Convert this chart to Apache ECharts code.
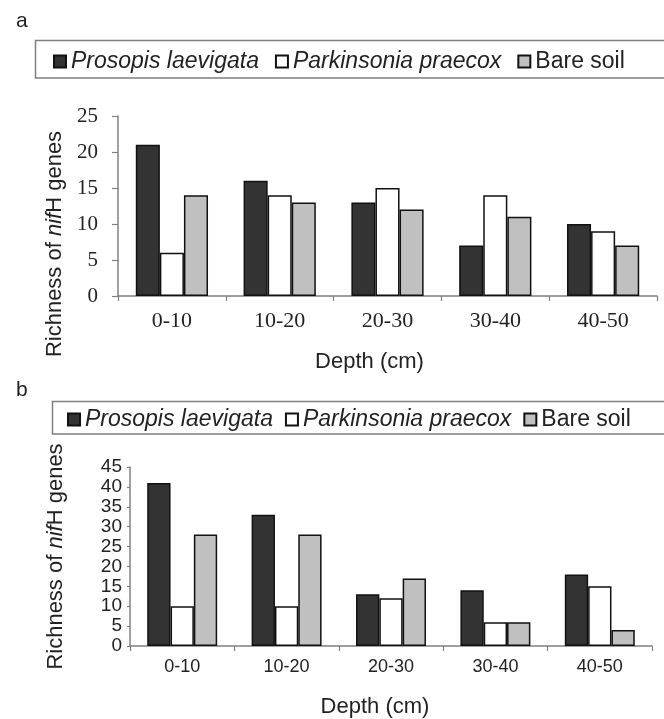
<!DOCTYPE html>
<html>
<head>
<meta charset="utf-8">
<script src="https://cdn.jsdelivr.net/npm/echarts@6/dist/echarts.min.js"></script>
<style>
html,body{margin:0;padding:0;background:#fff;}
#c{width:664px;height:719px;}
</style>
</head>
<body>
<div id="c"></div>
<script>
var categories = ['0-10', '10-20', '20-30', '30-40', '40-50'];
var seriesNames = ['Prosopis laevigata', 'Parkinsonia praecox', 'Bare soil'];
var prosopisA = [21, 16, 13, 7, 10];
var parkinsoniaA = [6, 14, 15, 14, 9];
var bareA = [14, 13, 12, 11, 7];
var prosopisB = [41, 33, 13, 14, 18];
var parkinsoniaB = [10, 10, 12, 6, 15];
var bareB = [28, 28, 17, 6, 4];
var yTicksA = [0, 5, 10, 15, 20, 25];
var yTicksB = [0, 5, 10, 15, 20, 25, 30, 35, 40, 45];

var colors = ['#333333', '#ffffff', '#c0c0c0'];
var chart = echarts.init(document.getElementById('c'), null, {renderer: 'canvas'});

function bar(name, data, idx, ci) {
  return {
    type: 'bar', name: name, data: data,
    xAxisIndex: idx, yAxisIndex: idx,
    barGap: '0%', barCategoryGap: '33%',
    itemStyle: {color: colors[ci], borderColor: '#111', borderWidth: 1.5},
    emphasis: {disabled: true}
  };
}

var legendData = [
  {name: seriesNames[0], textStyle: {fontStyle: 'italic'}},
  {name: seriesNames[1], textStyle: {fontStyle: 'italic'}},
  {name: seriesNames[2], textStyle: {fontStyle: 'normal'}}
];

var yNameRich = {
  a: {fontFamily: 'Liberation Sans, Arial', fontSize: 22, color: '#222'},
  b: {fontFamily: 'Liberation Sans, Arial', fontSize: 22, color: '#222', fontStyle: 'italic'}
};

var option = {
  animation: false,
  backgroundColor: '#fff',
  title: [
    {text: 'a', left: 11, top: 6, textStyle: {fontFamily: 'Liberation Sans, Arial', fontSize: 21, fontWeight: 'normal', color: '#222'}},
    {text: 'b', left: 11, top: 375, textStyle: {fontFamily: 'Liberation Sans, Arial', fontSize: 21, fontWeight: 'normal', color: '#222'}}
  ],
  graphic: [
    {type: 'rect', shape: {x: 35.5, y: 40.5, width: 660, height: 37.5}, style: {fill: 'none', stroke: '#808080', lineWidth: 1.5}, silent: true},
    {type: 'rect', shape: {x: 52.5, y: 401.5, width: 640, height: 32.5}, style: {fill: 'none', stroke: '#808080', lineWidth: 1.5}, silent: true}
  ],
  legend: [
    {
      left: 53, top: 50, itemWidth: 12, itemHeight: 12, itemGap: 16, icon: 'rect',
      data: legendData,
      selectedMode: false,
      textStyle: {fontFamily: 'Liberation Sans, Arial', fontSize: 23, color: '#222'},
      padding: 0
    },
    {
      left: 67, top: 408, itemWidth: 12, itemHeight: 12, itemGap: 12, icon: 'rect',
      data: legendData,
      selectedMode: false,
      textStyle: {fontFamily: 'Liberation Sans, Arial', fontSize: 23, color: '#222'},
      padding: 0
    }
  ],
  grid: [
    {left: 118, right: 7, top: 116, bottom: 423},
    {left: 130, right: 12, top: 467, bottom: 72}
  ],
  xAxis: [
    {
      type: 'category', gridIndex: 0, data: categories,
      axisLine: {lineStyle: {color: '#808080', width: 1.5}},
      axisTick: {show: true, length: 5, lineStyle: {color: '#808080', width: 1.2}},
      axisLabel: {fontFamily: 'Liberation Serif, Times New Roman', fontSize: 22, color: '#222', margin: 14},
      name: 'Depth (cm)', nameLocation: 'middle', nameGap: 55,
      nameTextStyle: {fontFamily: 'Liberation Sans, Arial', fontSize: 22, color: '#222', padding: [0, 36, 0, 0]}
    },
    {
      type: 'category', gridIndex: 1, data: categories,
      axisLine: {lineStyle: {color: '#808080', width: 1.5}},
      axisTick: {show: true, length: 5, lineStyle: {color: '#808080', width: 1.2}},
      axisLabel: {fontFamily: 'Liberation Sans, Arial', fontSize: 18, color: '#222', margin: 12},
      name: 'Depth (cm)', nameLocation: 'middle', nameGap: 50,
      nameTextStyle: {fontFamily: 'Liberation Sans, Arial', fontSize: 22, color: '#222', padding: [0, 32, 0, 0]}
    }
  ],
  yAxis: [
    {
      type: 'value', gridIndex: 0, min: yTicksA[0], max: yTicksA[yTicksA.length - 1], interval: 5,
      splitLine: {show: false},
      axisLine: {show: true, lineStyle: {color: '#808080', width: 1.5}},
      axisTick: {show: true, length: 6, lineStyle: {color: '#808080', width: 1.2}},
      axisLabel: {fontFamily: 'Liberation Serif, Times New Roman', fontSize: 21, color: '#222', margin: 20},
      name: '{a|Richness of }{b|nif}{a|H genes}', nameLocation: 'middle', nameGap: 50, nameRotate: 90,
      nameTextStyle: {rich: yNameRich, padding: [0, 76, 0, 0]}
    },
    {
      type: 'value', gridIndex: 1, min: yTicksB[0], max: yTicksB[yTicksB.length - 1], interval: 5,
      splitLine: {show: false},
      axisLine: {show: true, lineStyle: {color: '#808080', width: 1.5}},
      axisTick: {show: true, length: 3, lineStyle: {color: '#808080', width: 1.2}},
      axisLabel: {fontFamily: 'Liberation Sans, Arial', fontSize: 19, color: '#222', margin: 8},
      name: '{a|Richness of }{b|nif}{a|H genes}', nameLocation: 'middle', nameGap: 63, nameRotate: 90,
      nameTextStyle: {rich: yNameRich}
    }
  ],
  series: [
    bar(seriesNames[0], prosopisA, 0, 0),
    bar(seriesNames[1], parkinsoniaA, 0, 1),
    bar(seriesNames[2], bareA, 0, 2),
    bar(seriesNames[0], prosopisB, 1, 0),
    bar(seriesNames[1], parkinsoniaB, 1, 1),
    bar(seriesNames[2], bareB, 1, 2)
  ]
};
chart.setOption(option);
</script>
</body>
</html>
